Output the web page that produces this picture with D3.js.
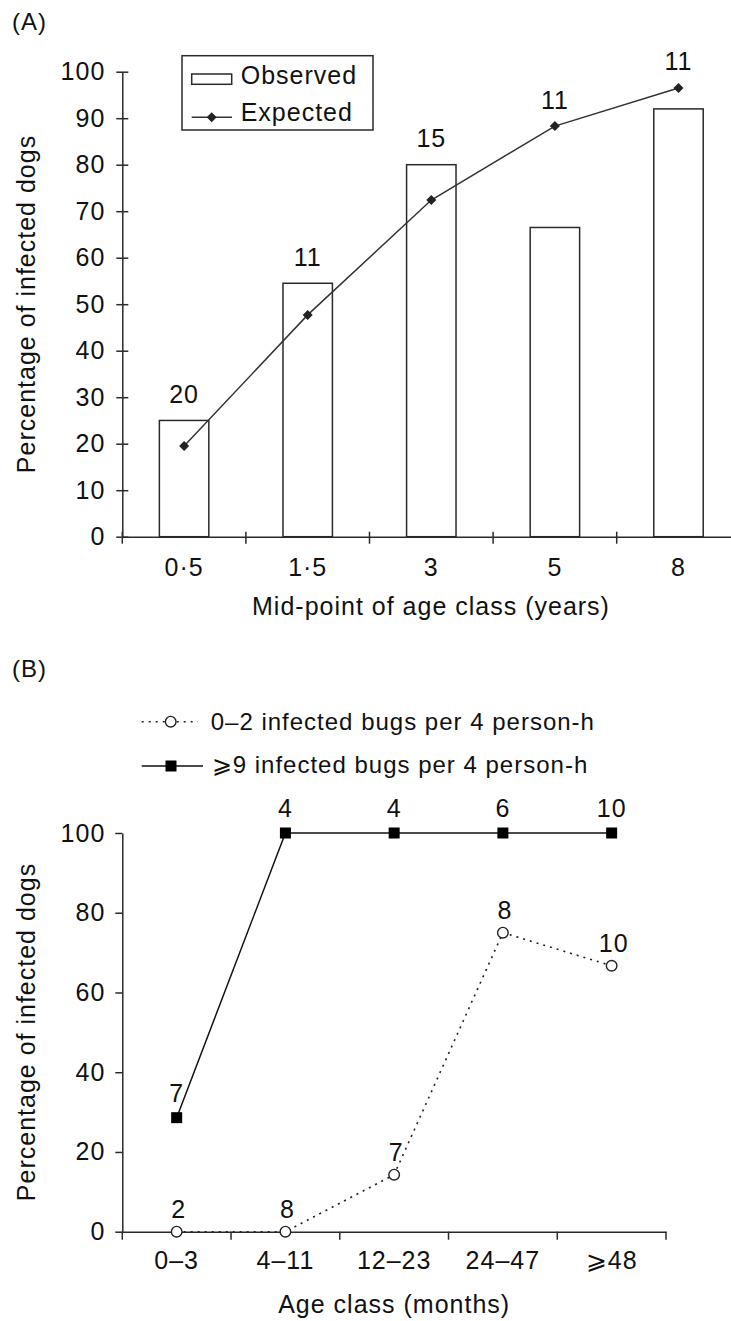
<!DOCTYPE html>
<html>
<head>
<meta charset="utf-8">
<script src="https://cdn.jsdelivr.net/npm/d3@7"></script>
<style>
  body { margin: 0; background: #fff; }
  svg text { font-family: "Liberation Sans", Arial, sans-serif; fill: #111; letter-spacing: 1px; }
</style>
</head>
<body>
<div id="chart"></div>
<script>
// panel A data
var ageMidA = ["0\u00b75", "1\u00b75", "3", "5", "8"];
var observedA = [25, 54.5, 80, 66.5, 92];
var expectedA = [19.5, 47.7, 72.4, 88.3, 96.5];
var countsA = [20, 11, 15, 11, 11];
var yTicksA = [0, 10, 20, 30, 40, 50, 60, 70, 80, 90, 100];

// panel B data
var ageClassB = ["0\u20133", "4\u201311", "12\u201323", "24\u201347", "\u2a7e48"];
var lowB = [0, 0, 14.3, 75, 66.7];
var highB = [28.6, 100, 100, 100, 100];
var countsLowB = [2, 8, 7, 8, 10];
var countsHighB = [7, 4, 4, 6, 10];
var yTicksB = [0, 20, 40, 60, 80, 100];

var ink = "#2a2a2a";
var svg = d3.select("#chart").append("svg")
    .attr("width", 731).attr("height", 1321);

//Draw panel A: observed bars and expected line
function draw_a() {
    var left = 122.3, top = 71.7, w = 618, h = 465;
    var g = svg.append("g").attr("transform", "translate(" + left + "," + top + ")");
    var x = d3.scaleBand().domain(ageMidA).range([0, w]);
    var y = d3.scaleLinear().domain([0, 100]).range([h, 0]);

    svg.append("text").attr("x", 12).attr("y", 30).style("font-size", "24px").text("(A)");

    // bars
    var bw = x.bandwidth() * 0.4;
    g.selectAll(".bar").data(observedA).enter().append("rect")
        .attr("x", function(d, i) { return x(ageMidA[i]) + x.bandwidth() / 2 - bw / 2; })
        .attr("y", function(d) { return y(d); })
        .attr("width", bw)
        .attr("height", function(d) { return h - y(d); })
        .style("fill", "#fff").style("stroke", ink).style("stroke-width", 1.5);

    // axes
    var ya = g.append("g").call(d3.axisLeft(y).tickValues(yTicksA).tickSize(6).tickPadding(11).tickSizeOuter(0));
    ya.selectAll(".tick line").attr("x1", 6);
    var xa = g.append("g").attr("transform", "translate(0," + h + ")")
        .call(d3.axisBottom(x).tickSize(0).tickPadding(22));
    [ya, xa].forEach(function(a) {
        a.selectAll("path, line").style("stroke", ink).style("stroke-width", 1.5);
        a.selectAll("text").style("font-size", "25px").style("fill", "#111").style("font-family", null);
    });
    // boundary ticks between age classes
    var bounds = ageMidA.map(function(c) { return x(c); }).concat([w]);
    g.selectAll(".btick").data(bounds).enter().append("line")
        .attr("x1", function(d) { return d; }).attr("x2", function(d) { return d; })
        .attr("y1", h - 5).attr("y2", h + 7)
        .style("stroke", ink).style("stroke-width", 1.5);

    // expected line
    var line = d3.line()
        .x(function(d, i) { return x(ageMidA[i]) + x.bandwidth() / 2; })
        .y(function(d) { return y(d); });
    g.append("path").datum(expectedA).attr("d", line)
        .style("fill", "none").style("stroke", "#333").style("stroke-width", 1.5);
    g.selectAll(".dia").data(expectedA).enter().append("path")
        .attr("d", "M0,-5L5,0L0,5L-5,0Z")
        .attr("transform", function(d, i) {
            return "translate(" + (x(ageMidA[i]) + x.bandwidth() / 2) + "," + y(d) + ")";
        })
        .style("fill", "#222");

    // sample sizes
    g.selectAll(".n").data(countsA).enter().append("text")
        .attr("x", function(d, i) { return x(ageMidA[i]) + x.bandwidth() / 2; })
        .attr("y", function(d, i) { return y(Math.max(observedA[i], expectedA[i])) - 17.5; })
        .attr("text-anchor", "middle").style("font-size", "25px")
        .text(function(d) { return d; });

    // titles
    g.append("text").attr("transform", "translate(" + (35 - left) + "," + (304 - top) + ") rotate(-90)")
        .attr("text-anchor", "middle").style("font-size", "25px").text("Percentage of infected dogs");
    g.append("text").attr("x", 431 - left).attr("y", 615 - top)
        .attr("text-anchor", "middle").style("font-size", "25px").text("Mid-point of age class (years)");

    // legend
    var lg = svg.append("g");
    lg.append("rect").attr("x", 182).attr("y", 55.7).attr("width", 191).attr("height", 74.3)
        .style("fill", "#fff").style("stroke", ink).style("stroke-width", 1.5);
    lg.append("rect").attr("x", 191.7).attr("y", 74).attr("width", 40).attr("height", 10.3)
        .style("fill", "#fff").style("stroke", ink).style("stroke-width", 1.5);
    lg.append("text").attr("x", 240.7).attr("y", 84.3).style("font-size", "25px").text("Observed");
    lg.append("line").attr("x1", 191.7).attr("x2", 232).attr("y1", 117.3).attr("y2", 117.3)
        .style("stroke", "#333").style("stroke-width", 1.5);
    lg.append("path").attr("d", "M0,-5L5,0L0,5L-5,0Z").attr("transform", "translate(211.7,117.3)")
        .style("fill", "#222");
    lg.append("text").attr("x", 240.7).attr("y", 120.7).style("font-size", "25px").text("Expected");
}

//Draw panel B: two exposure groups by age class
function draw_b() {
    var left = 122.3, top = 833, w = 543.7, h = 398.7;
    var g = svg.append("g").attr("transform", "translate(" + left + "," + top + ")");
    var x = d3.scaleBand().domain(ageClassB).range([0, w]);
    var y = d3.scaleLinear().domain([0, 100]).range([h, 0]);
    var cx = function(i) { return x(ageClassB[i]) + x.bandwidth() / 2; };

    svg.append("text").attr("x", 12).attr("y", 677).style("font-size", "24px").text("(B)");

    var ya = g.append("g").call(d3.axisLeft(y).tickValues(yTicksB).tickSize(7).tickPadding(10).tickSizeOuter(0));
    var xa = g.append("g").attr("transform", "translate(0," + h + ")")
        .call(d3.axisBottom(x).tickSize(0).tickPadding(20));
    [ya, xa].forEach(function(a) {
        a.selectAll("path, line").style("stroke", ink).style("stroke-width", 1.5);
        a.selectAll("text").style("font-size", "25px").style("fill", "#111").style("font-family", null);
    });
    var bounds = ageClassB.map(function(c) { return x(c); }).concat([w]);
    g.selectAll(".btick").data(bounds).enter().append("line")
        .attr("x1", function(d) { return d; }).attr("x2", function(d) { return d; })
        .attr("y1", h).attr("y2", h + 8)
        .style("stroke", ink).style("stroke-width", 1.5);

    var line = d3.line().x(function(d, i) { return cx(i); }).y(function(d) { return y(d); });
    g.append("path").datum(highB).attr("d", line)
        .style("fill", "none").style("stroke", "#111").style("stroke-width", 1.5);
    g.append("path").datum(lowB).attr("d", line)
        .style("fill", "none").style("stroke", "#222").style("stroke-width", 1.6)
        .style("stroke-dasharray", "2,5");

    g.selectAll(".sq").data(highB).enter().append("rect")
        .attr("x", function(d, i) { return cx(i) - 5.5; })
        .attr("y", function(d) { return y(d) - 5.5; })
        .attr("width", 11).attr("height", 11).style("fill", "#000");
    g.selectAll(".ci").data(lowB).enter().append("circle")
        .attr("cx", function(d, i) { return cx(i); })
        .attr("cy", function(d) { return y(d); })
        .attr("r", 5.3).style("fill", "#fff").style("stroke", "#222").style("stroke-width", 1.4);

    g.selectAll(".nh").data(countsHighB).enter().append("text")
        .attr("x", function(d, i) { return cx(i); })
        .attr("y", function(d, i) { return y(highB[i]) - 16; })
        .attr("text-anchor", "middle").style("font-size", "25px")
        .text(function(d) { return d; });
    g.selectAll(".nl").data(countsLowB).enter().append("text")
        .attr("x", function(d, i) { return cx(i) + 2; })
        .attr("y", function(d, i) { return y(lowB[i]) - 14; })
        .attr("text-anchor", "middle").style("font-size", "25px")
        .text(function(d) { return d; });

    g.append("text").attr("transform", "translate(" + (35 - left) + "," + (1032 - top) + ") rotate(-90)")
        .attr("text-anchor", "middle").style("font-size", "25px").text("Percentage of infected dogs");
    g.append("text").attr("x", w / 2).attr("y", 1313 - top)
        .attr("text-anchor", "middle").style("font-size", "25px").text("Age class (months)");

    // legend
    var lg = svg.append("g");
    lg.append("line").attr("x1", 141.7).attr("x2", 198).attr("y1", 721.7).attr("y2", 721.7)
        .style("stroke", "#222").style("stroke-width", 1.6).style("stroke-dasharray", "2,5");
    lg.append("circle").attr("cx", 170.7).attr("cy", 721.7).attr("r", 5.3)
        .style("fill", "#fff").style("stroke", "#222").style("stroke-width", 1.4);
    lg.append("text").attr("x", 210.7).attr("y", 730).style("font-size", "24px")
        .text("0\u20132 infected bugs per 4 person-h");
    lg.append("line").attr("x1", 141.7).attr("x2", 203).attr("y1", 766).attr("y2", 766)
        .style("stroke", "#111").style("stroke-width", 1.5);
    lg.append("rect").attr("x", 165.5).attr("y", 760.5).attr("width", 11).attr("height", 11)
        .style("fill", "#000");
    lg.append("text").attr("x", 211.7).attr("y", 773).style("font-size", "24px")
        .text("\u2a7e9 infected bugs per 4 person-h");
}

draw_a();
draw_b();
</script>
</body>
</html>
